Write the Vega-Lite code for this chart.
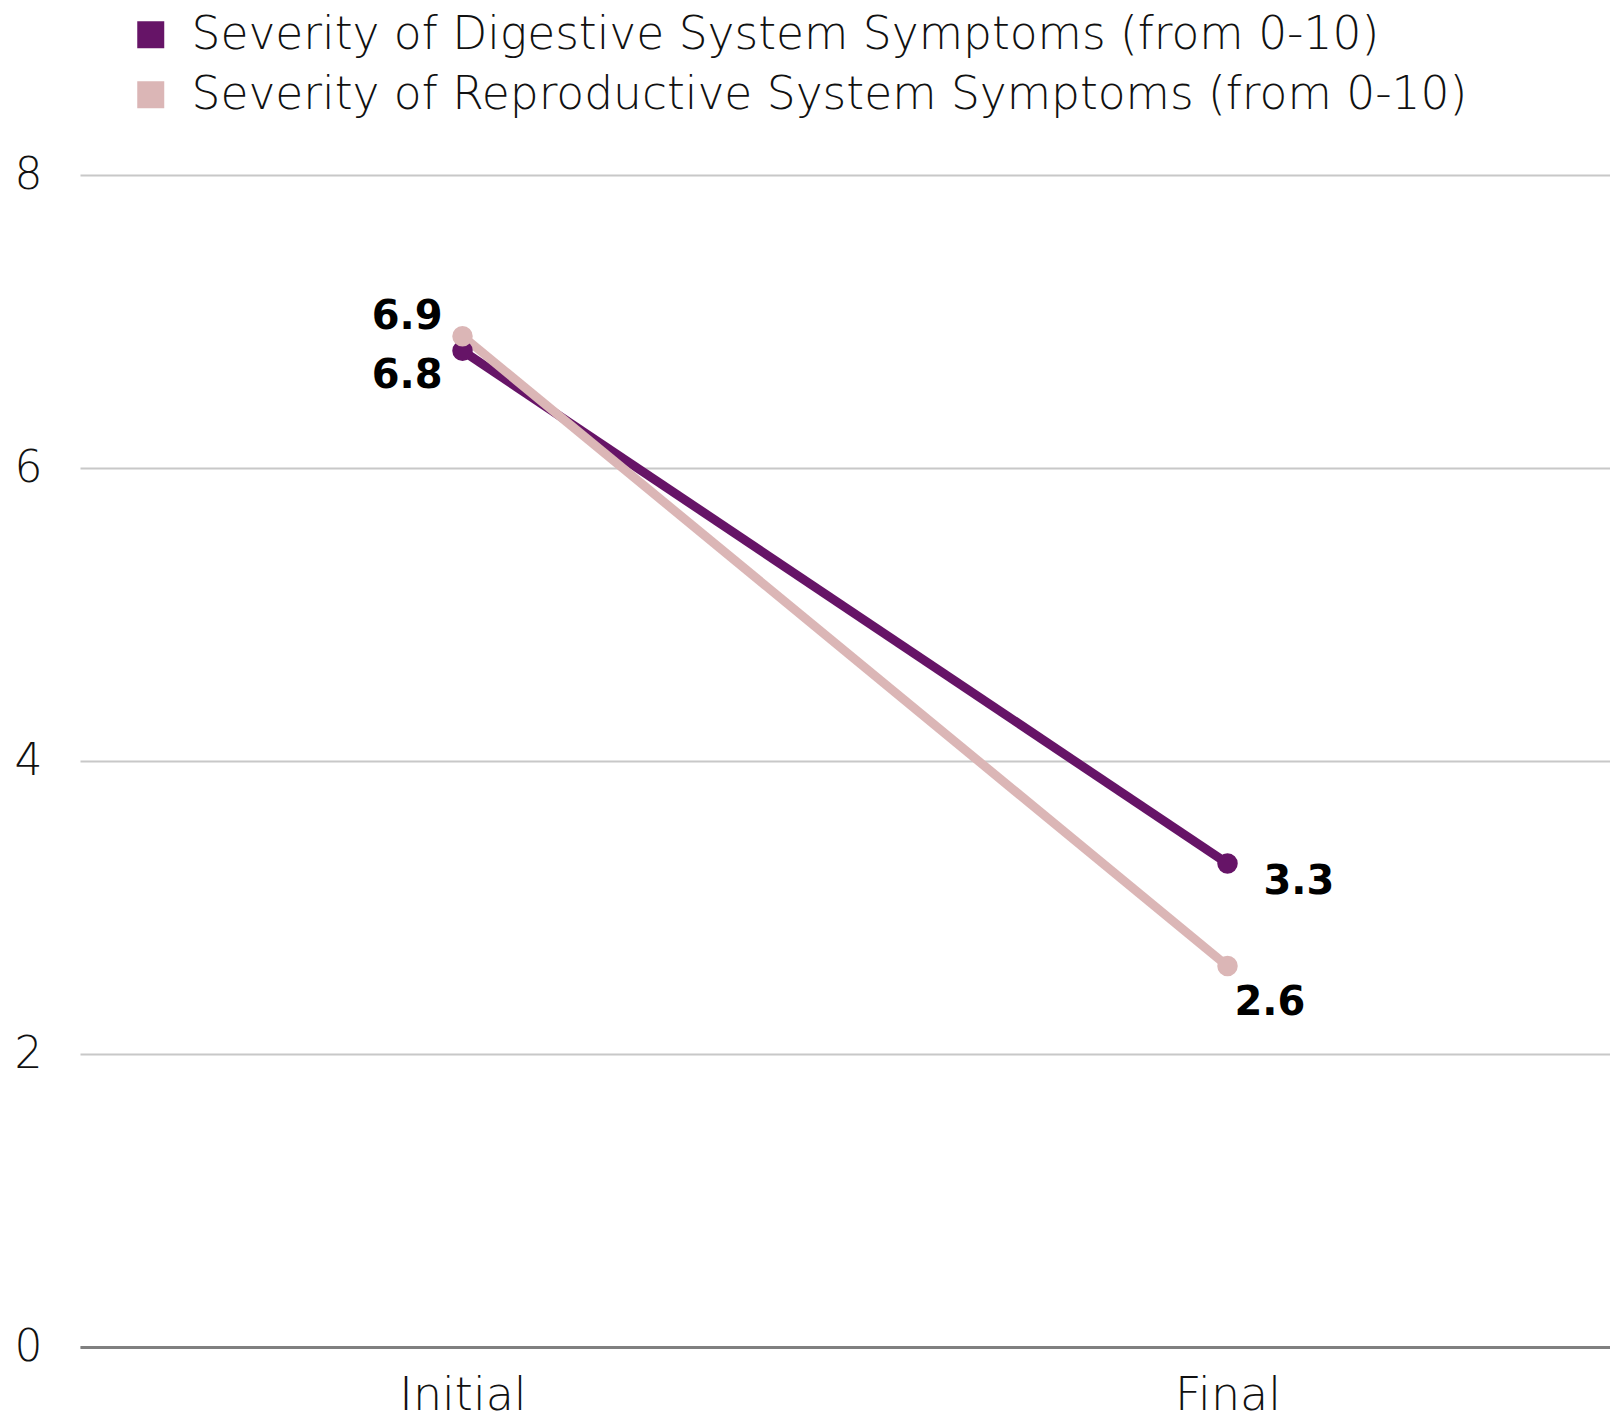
{
  "$schema": "https://vega.github.io/schema/vega-lite/v6.json",
  "autosize": "none",
  "width": 1530,
  "height": 1172,
  "padding": {"left": 80, "top": 175, "right": 0, "bottom": 75},
  "background": "white",
  "config": {
    "view": {"stroke": null},
    "font": "DejaVu Sans",
    "axis": {"labelFont": "DejaVu Sans", "labelFontWeight": 200, "labelColor": "#111111"}
  },
  "data": {
    "values": [
      {"stage": "Initial", "series": "Severity of Digestive System Symptoms (from 0-10)", "score": 6.8},
      {"stage": "Final", "series": "Severity of Digestive System Symptoms (from 0-10)", "score": 3.3},
      {"stage": "Initial", "series": "Severity of Reproductive System Symptoms (from 0-10)", "score": 6.9},
      {"stage": "Final", "series": "Severity of Reproductive System Symptoms (from 0-10)", "score": 2.6}
    ]
  },
  "encoding": {
    "x": {
      "field": "stage", "type": "nominal", "sort": ["Initial", "Final"],
      "scale": {"type": "point", "padding": 0.5},
      "axis": {"title": null, "labelFontSize": 46, "labelPadding": 26, "ticks": false,
               "domainColor": "#808080", "domainWidth": 3, "grid": false, "labelAngle": 0}
    },
    "y": {
      "field": "score", "type": "quantitative",
      "scale": {"domain": [0, 8], "nice": false, "zero": true},
      "axis": {"title": null, "values": [0, 2, 4, 6, 8], "labelFontSize": 44, "labelPadding": 38,
               "ticks": false, "domain": false, "gridColor": "#c8c8c8", "gridWidth": 2}
    }
  },
  "layer": [
    {
      "mark": {"type": "line", "strokeWidth": 9},
      "encoding": {
        "color": {
          "field": "series", "type": "nominal",
          "scale": {"range": ["#661467", "#dbb6b6"]},
          "legend": {
            "title": null, "orient": "none", "legendX": 48, "legendY": -163,
            "symbolType": "square", "symbolSize": 729, "symbolStrokeWidth": 0,
            "labelFont": "DejaVu Sans", "labelFontWeight": 200, "labelFontSize": 45.5, "labelColor": "#111111",
            "labelLimit": 2000, "labelOffset": 18, "rowPadding": 13
          }
        },
        "order": {"field": "stage", "sort": "descending"}
      }
    },
    {
      "mark": {"type": "point", "filled": true, "size": 420, "opacity": 1},
      "encoding": {"color": {"field": "series", "type": "nominal"}}
    },
    {
      "transform": [{"filter": "datum.stage === 'Initial' && datum.score === 6.9"}],
      "mark": {"type": "text", "font": "DejaVu Sans", "fontWeight": "bold", "fontSize": 40, "color": "#000000",
               "align": "right", "baseline": "middle", "dx": -20, "dy": -19},
      "encoding": {"text": {"field": "score", "type": "quantitative", "format": ".1f"}}
    },
    {
      "transform": [{"filter": "datum.stage === 'Initial' && datum.score === 6.8"}],
      "mark": {"type": "text", "font": "DejaVu Sans", "fontWeight": "bold", "fontSize": 40, "color": "#000000",
               "align": "right", "baseline": "middle", "dx": -20, "dy": 25},
      "encoding": {"text": {"field": "score", "type": "quantitative", "format": ".1f"}}
    },
    {
      "transform": [{"filter": "datum.stage === 'Final' && datum.score === 3.3"}],
      "mark": {"type": "text", "font": "DejaVu Sans", "fontWeight": "bold", "fontSize": 40, "color": "#000000",
               "align": "left", "baseline": "middle", "dx": 36, "dy": 18},
      "encoding": {"text": {"field": "score", "type": "quantitative", "format": ".1f"}}
    },
    {
      "transform": [{"filter": "datum.stage === 'Final' && datum.score === 2.6"}],
      "mark": {"type": "text", "font": "DejaVu Sans", "fontWeight": "bold", "fontSize": 40, "color": "#000000",
               "align": "left", "baseline": "middle", "dx": 7, "dy": 37},
      "encoding": {"text": {"field": "score", "type": "quantitative", "format": ".1f"}}
    }
  ]
}
